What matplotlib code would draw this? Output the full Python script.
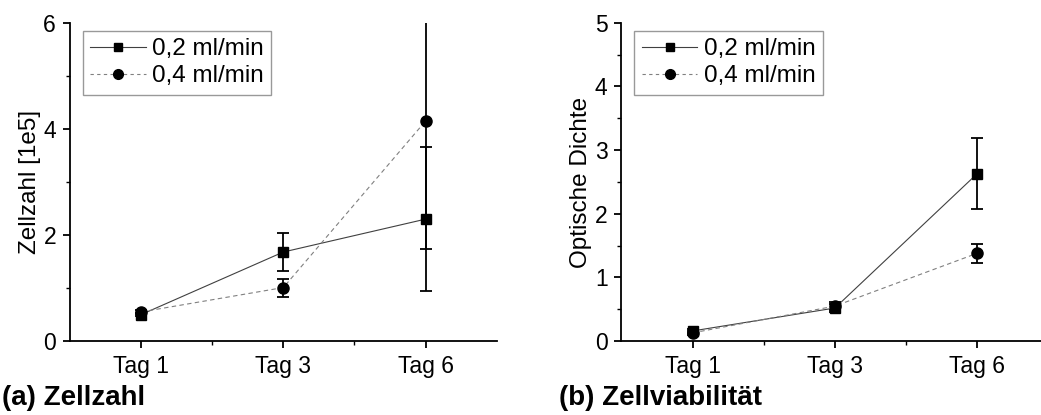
import matplotlib.pyplot as plt
import numpy as np

plt.rcParams['font.family'] = ['Liberation Sans', 'DejaVu Sans']

tage = ["Tag 1", "Tag 3", "Tag 6"]
serien = ["0,2 ml/min", "0,4 ml/min"]

# (a) Zellzahl [1e5]
zahl_02 = [0.50, 1.68, 2.30]
zahl_02_err = [0.03, 0.36, 1.36]
zahl_04 = [0.55, 1.01, 4.15]
zahl_04_err = [0.03, 0.17, 2.42]

# (b) optische Dichte
od_02 = [0.16, 0.52, 2.63]
od_02_err = [0.03, 0.06, 0.56]
od_04 = [0.13, 0.55, 1.38]
od_04_err = [0.03, 0.06, 0.15]

fig = plt.figure(figsize=(10.41, 4.15), dpi=100)
ax1 = fig.add_axes([0.0672, 0.178, 0.410, 0.767])
ax2 = fig.add_axes([0.597, 0.178, 0.410, 0.767])

def panel(ax, y1, e1, y2, e2, ymax, ylabel):
    x = np.arange(1, len(tage) + 1)
    ax.plot(x, y1, color='#404040', lw=0.8, ls='-', zorder=2)
    ax.plot(x, y2, color='#808080', lw=0.8, ls=(0, (4, 3)), zorder=2)
    ax.errorbar(x, y1, yerr=e1, fmt='none', ecolor='black', elinewidth=1.3, capsize=4, capthick=1.3, zorder=3)
    ax.errorbar(x, y2, yerr=e2, fmt='none', ecolor='black', elinewidth=1.3, capsize=4, capthick=1.3, zorder=3)
    ax.plot(x, y1, ls='none', marker='s', ms=7, color='black', zorder=4)
    ax.plot(x, y2, ls='none', marker='o', ms=8, color='black', zorder=4)
    # legend handles
    h1, = ax.plot([], [], color='#404040', lw=0.8, marker='s', ms=6, mfc='black', mec='black')
    h2, = ax.plot([], [], color='#808080', lw=0.8, ls=(0, (3, 3)), marker='o', ms=7, mfc='black', mec='black')
    leg = ax.legend([h1, h2], serien, loc='upper left', bbox_to_anchor=(0.03, 0.975),
                    prop={'size': 17.5}, frameon=True, fancybox=False, handlelength=2.3,
                    borderpad=0.3, labelspacing=0.22, handletextpad=0.25, borderaxespad=0.0)
    leg.get_frame().set_edgecolor('#808080')
    leg.get_frame().set_linewidth(1.0)
    ax.set_xlim(0.5, 3.5)
    ax.set_ylim(0, ymax)
    ax.set_xticks(x)
    ax.set_xticklabels(tage)
    ax.set_xticks([1.5, 2.5], minor=True)
    ax.set_yticks(np.arange(0, ymax + 0.01, 1 if ymax == 5 else 2))
    ax.set_yticks(np.arange(0.5 if ymax == 5 else 1, ymax, 1 if ymax == 5 else 2), minor=True)
    ax.spines['top'].set_visible(False)
    ax.spines['right'].set_visible(False)
    for s in ['left', 'bottom']:
        ax.spines[s].set_linewidth(1.3)
    ax.tick_params(which='major', length=5, width=1.3, labelsize=16.5, direction='out', pad=5)
    ax.tick_params(which='minor', length=3, width=1.0, direction='out')
    ax.set_ylabel(ylabel, fontsize=17.5, labelpad=2)

panel(ax1, zahl_02, zahl_02_err, zahl_04, zahl_04_err, 6, "Zellzahl [1e5]")
panel(ax2, od_02, od_02_err, od_04, od_04_err, 5, "Optische Dichte")

fig.text(0.002, 0.025, "(a) Zellzahl", fontsize=20, fontweight='bold')
fig.text(0.537, 0.025, "(b) Zellviabilität", fontsize=20, fontweight='bold')

fig.savefig("out.png", dpi=100)
